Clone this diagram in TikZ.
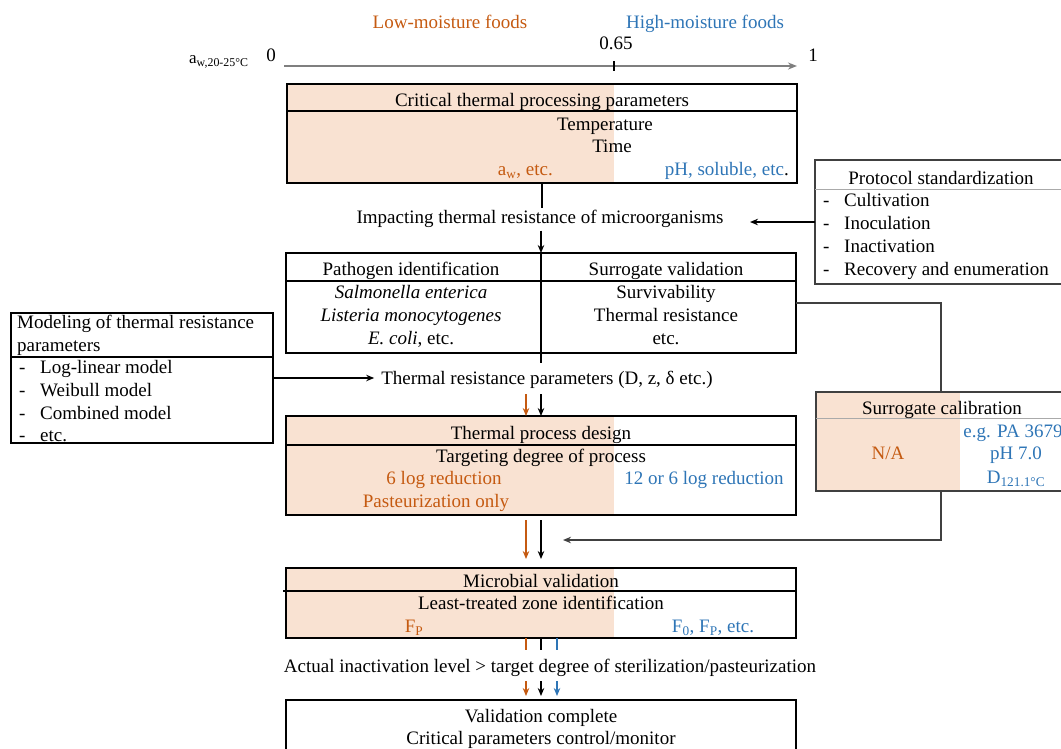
\documentclass[tikz,border=0pt]{standalone}
\usepackage{fontspec}
\setmainfont{Liberation Serif}
\usepackage{tikz}
\usetikzlibrary{arrows.meta,calc}
\definecolor{lowtext}{RGB}{197,90,17}
\definecolor{hightext}{RGB}{46,117,182}
\definecolor{lowfill}{RGB}{249,226,210}
\definecolor{axisgray}{RGB}{127,127,127}
\definecolor{linkgray}{RGB}{64,64,64}
\definecolor{sepgray}{RGB}{170,170,170}
\newcommand{\listdash}{\makebox[21pt][l]{-}}

\begin{document}
\begin{tikzpicture}[x=1pt, y=-1pt,
  txt/.style={font=\fontsize{19}{23}\selectfont, inner sep=0pt,
    text height=15pt, text depth=2pt},
  frame/.style={draw, line width=1.1pt, anchor=north west,
    inner sep=0pt, outer sep=0pt},
  sepline/.style={line width=1.1pt},
  conn/.style={-{Stealth[length=8pt,width=6.5pt]}, line width=2pt},
  stem/.style={line width=2pt},
  link/.style={draw=linkgray, line width=2.2pt},
  linkarrow/.style={link, -{Stealth[length=8pt,width=6.5pt]}},
  axisline/.style={draw=axisgray, line width=2pt,
    -{Stealth[length=9pt,width=7pt]}}
]
\clip (0,0) rectangle (1061,748);

\node[txt, text=lowtext] (lowlab) at (450,22) {Low-moisture foods};
\node[txt, text=hightext] (highlab) at (705,22) {High-moisture foods};
\node[txt] (midlab) at (616,43) {0.65};
\node[txt] (zerolab) at (271,55) {0};
\node[txt] (onelab) at (813,55) {1};
\node[txt, font=\fontsize{17}{20}\selectfont, anchor=west] (awlab) at (189,57) {a\textsubscript{w,20-25°C}};
\coordinate (ax0) at (284,66);
\coordinate (ax1) at (797,66);
\draw[axisline] (ax0) -- (ax1);
\draw[line width=2pt] (614,61) -- (614,71);

\fill[lowfill] (287,84) rectangle (614,183);
\node[frame, minimum width=510pt, minimum height=99pt] (crit) at (287,84) {};
\draw[sepline] (287,111) -- (797,111);
\node[txt] (crit-t) at (542,100) {Critical thermal processing parameters};
\node[txt] (crit-1) at (605,124) {Temperature};
\node[txt] (crit-2) at (612,146) {Time};
\node[txt, text=lowtext, anchor=east] (crit-lo) at (553,169) {a\textsubscript{w}, etc.};
\node[txt, anchor=east] (crit-hi) at (789,169) {\color{hightext}pH, soluble, etc\color{black}.};

\node[txt] (impact) at (540,217) {Impacting thermal resistance of microorganisms};
\draw[stem] (crit.south) -- (crit.south |- impact.north);

\node[frame, draw=linkgray, minimum width=250pt, minimum height=124pt] (proto) at (815,160) {};
\draw[draw=sepgray, line width=1pt] (815,189) -- (1061,189);
\node[txt] (proto-t) at (941,178) {Protocol standardization};
\node[txt, anchor=west] (proto-1) at (823,200) {\listdash Cultivation};
\node[txt, anchor=west] (proto-2) at (823,223) {\listdash Inoculation};
\node[txt, anchor=west] (proto-3) at (823,246) {\listdash Inactivation};
\node[txt, anchor=west] (proto-4) at (823,269) {\listdash Recovery and enumeration};
\coordinate (proto-in) at (750,222);
\draw[conn] (proto.west) -- (proto-in);

\node[frame, minimum width=510pt, minimum height=100pt] (path) at (286,253) {};
\draw[sepline] (286,281) -- (796,281);
\node[txt] (path-t) at (411,269) {Pathogen identification};
\node[txt] (path-1) at (411,292) {\textit{Salmonella enterica}};
\node[txt] (path-2) at (411,315) {\textit{Listeria monocytogenes}};
\node[txt] (path-3) at (411,338) {\textit{E. coli}, etc.};
\node[txt] (surr-t) at (666,269) {Surrogate validation};
\node[txt] (surr-1) at (666,292) {Survivability};
\node[txt] (surr-2) at (666,315) {Thermal resistance};
\node[txt] (surr-3) at (666,338) {etc.};
\draw[conn, shorten <=5pt] (impact.south -| path.north) -- (path.north);
\coordinate (path-end) at (541,363);
\draw[stem] (path.north) -- (path-end);

\node[txt] (thr) at (547,378) {Thermal resistance parameters (D, z, δ etc.)};

\node[frame, minimum width=262pt, minimum height=130pt] (model) at (11,313) {};
\draw[sepline] (11,357) -- (273,357);
\node[txt, anchor=west] (model-t1) at (17,322) {Modeling of thermal resistance};
\node[txt, anchor=west] (model-t2) at (17,345) {parameters};
\node[txt, anchor=west] (model-1) at (19,367) {\listdash Log-linear model};
\node[txt, anchor=west] (model-2) at (19,390) {\listdash Weibull model};
\node[txt, anchor=west] (model-3) at (19,413) {\listdash Combined model};
\node[txt, anchor=west] (model-4) at (19,435) {\listdash etc.};
\draw[conn, shorten >=7pt] (model.east |- thr) -- (thr.west);

\fill[lowfill] (817,392) rectangle (960,491);
\node[frame, draw=linkgray, minimum width=250pt, minimum height=99pt] (calib) at (816,392) {};
\draw[draw=sepgray, line width=1pt] (816,418) -- (1061,418);
\node[txt] (calib-t) at (942,408) {Surrogate calibration};
\node[txt, text=lowtext] (calib-lo) at (888,453) {N/A};
\node[txt, text=hightext] (calib-1) at (1013,431) {e.g. PA 3679};
\node[txt, text=hightext] (calib-2) at (1016,453) {pH 7.0};
\node[txt, text=hightext] (calib-3) at (1016,477) {D\textsubscript{121.1°C}};
\draw[link] (path.east) -- (path.east -| calib.north) -- (calib.north);

\fill[lowfill] (286,416) rectangle (614,515);
\node[frame, minimum width=510pt, minimum height=99pt] (design) at (286,416) {};
\draw[sepline] (286,445) -- (796,445);
\node[txt] (design-t) at (541,433) {Thermal process design};
\node[txt] (design-1) at (541,456) {Targeting degree of process};
\node[txt, text=lowtext] (design-lo1) at (444,478) {6 log reduction};
\node[txt, text=lowtext] (design-lo2) at (436,501) {Pasteurization only};
\node[txt, text=hightext] (design-hi) at (704,478) {12 or 6 log reduction};
\draw[conn, color=lowtext] ($(design.north)+(-15,-22)$) -- ($(design.north)+(-15,0)$);
\draw[conn] ($(design.north)+(0,-22)$) -- ($(design.north)+(0,0)$);

\fill[lowfill] (286,568) rectangle (614,638);
\node[frame, minimum width=510pt, minimum height=70pt] (micro) at (286,568) {};
\draw[sepline] (283,591) -- (796,591);
\node[txt] (micro-t) at (541,581) {Microbial validation};
\node[txt] (micro-1) at (541,603) {Least-treated zone identification};
\node[txt, text=lowtext] (micro-lo) at (414,626) {F\textsubscript{P}};
\node[txt, text=hightext] (micro-hi) at (713,626) {F\textsubscript{0}, F\textsubscript{P}, etc.};
\draw[conn, color=lowtext] ($(design.south)+(-15,5)$) -- ($(micro.north)+(-15,-9)$);
\draw[conn] ($(design.south)+(0,5)$) -- ($(micro.north)+(0,-9)$);
\coordinate (merge) at (563,540);
\draw[linkarrow] (calib.south) -- (calib.south |- merge) -- (merge);

\node[txt] (act) at (550,666) {Actual inactivation level > target degree of sterilization/pasteurization};
\draw[stem, draw=lowtext] ($(micro.south)+(-15,0)$) -- ($(micro.south)+(-15,12)$);
\draw[stem] ($(micro.south)+(0,0)$) -- ($(micro.south)+(0,12)$);
\draw[stem, draw=hightext] ($(micro.south)+(16,0)$) -- ($(micro.south)+(16,12)$);

\node[frame, minimum width=510pt, minimum height=70pt] (final) at (286,700) {};
\node[txt] (final-1) at (541,716) {Validation complete};
\node[txt] (final-2) at (541,738) {Critical parameters control/monitor};
\draw[conn, color=lowtext] ($(final.north)+(-15,-19)$) -- ($(final.north)+(-15,-4)$);
\draw[conn] ($(final.north)+(0,-19)$) -- ($(final.north)+(0,-4)$);
\draw[conn, color=hightext] ($(final.north)+(16,-19)$) -- ($(final.north)+(16,-4)$);
\end{tikzpicture}
\end{document}
